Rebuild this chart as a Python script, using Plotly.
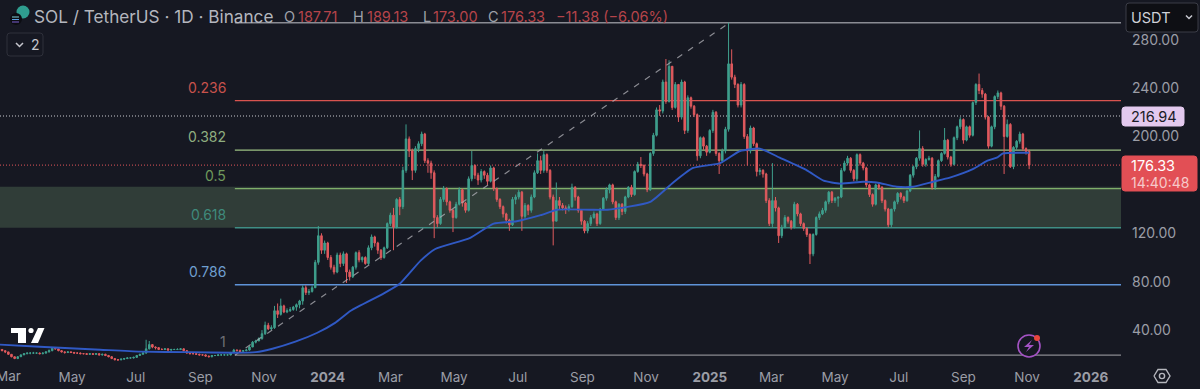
import pandas as pd
import plotly.graph_objects as go

start_date = "2023-02-20"
first_open = 24.5
closes = [
24,23,22,20,18,16.5,18,19.5,20.5,21,
21,21,21,20.5,21,22,23,25,24.5,23,
22,21.5,22,21.5,21,21,20.5,20.5,20,20.5,
20,20.5,19.5,20,19,18,16.5,15.5,15.5,16,
16.5,17,17,17.5,19,20,21,24.5,28,26,
25.5,24,24,24.5,23.5,24,24,24,24.5,23,
21,20.5,20.5,20,19.5,19.5,18.5,18,19,19,
19.5,19.5,19.5,19.5,21.5,23.5,23,22.5,23,23.5,
26,30,31,33,37,44,41,42,56,53,
60,55,56,57,59,61,64,75,71,72,
75,96,118,106,112,100,92,88,102,95,
103,88,84,92,104,98,100,95,108,117,
112,106,100,108,128,135,125,148,142,172,
198,188,172,190,194,202,180,178,170,133,
128,148,157,146,139,133,144,156,145,139,
165,176,168,164,171,168,163,174,157,148,
142,136,131,127,148,150,154,134,143,139,
150,170,180,172,185,172,150,130,147,143,
141,140,142,158,150,139,130,122,128,133,
136,128,140,149,156,160,146,133,144,138,
150,158,152,171,177,176,169,156,186,201,
222,221,245,229,258,224,243,216,245,205,
232,225,218,184,199,192,187,205,220,186,
180,188,206,260,249,243,226,243,200,188,
207,194,171,172,169,147,128,147,141,118,
125,133,130,125,144,136,128,124,119,103,
119,133,136,139,146,154,147,149,150,172,
178,182,172,165,185,178,174,160,152,144,
160,158,147,140,127,140,146,153,150,147,
155,168,175,182,190,177,181,182,158,167,
180,186,197,183,177,199,208,214,197,208,
201,228,243,238,235,216,192,208,233,236,
225,200,210,175,191,196,202,190,187.71,176.33]
highs = [
25,24,23,22,20,18,18.5,20,21,21.5,
21.5,22,21.5,21.5,21.5,22.5,24,25.5,26,24.5,
23.5,22.5,22.5,22.5,22,21.5,21.5,21,21,21,
21,21,21,20.5,20.5,19.5,18.5,16.5,16,16.5,
17,17.5,17.5,18,19.5,20.5,22,32,31,28.5,
26.5,26,25,25,25,24.5,24.5,25,25,25,
23.5,21.5,21,21,20.5,20,20,19,19.5,19.5,
20,20,20,20,22,24.5,24,24,23.5,24.5,
27,31,32,34,40,47,46,44,60,62,
66,61,58,59,60,62,65,77,77,74,
77,98,126,120,114,113,102,94,104,104,
105,104,90,93,105,106,101,101,110,119,
118,113,107,109,129,137,141,149,150,175,
210,200,190,192,196,204,203,182,180,172,
135,150,159,158,147,140,146,158,157,146,
167,188,177,170,173,172,170,176,175,158,
149,143,137,132,150,152,156,155,145,144,
152,172,186,184,188,186,173,152,162,150,
145,143,144,161,159,151,140,131,130,135,
138,137,141,150,158,161,161,147,145,145,
151,159,160,172,179,183,177,170,187,203,
224,226,247,264,263,258,245,243,247,246,
234,233,226,219,200,200,193,206,222,221,
187,190,208,294,272,251,244,245,244,202,
209,208,195,174,173,170,149,178,150,142,
127,135,134,131,146,145,137,129,125,120,
120,134,138,141,147,155,155,150,150,174,
180,184,183,173,186,186,179,175,161,153,
161,162,159,148,141,137,147,154,154,151,
156,169,176,183,205,192,182,184,183,169,
181,187,207,198,184,200,209,216,215,209,
209,229,244,252,240,236,217,209,234,238,
237,226,214,211,192,197,204,203,191,189.13]
lows = [
23.5,22.5,21,19.5,17.5,16,16,18,19.5,20,
20,20.5,20.5,20,20,20.5,21.5,22.5,24,22.5,
21.5,20.5,21,21,20.5,20.5,20,20,19.5,19.5,
19.5,19.5,19,19,18.5,17.5,16,15,14.5,15,
15.5,16,16.5,16.5,17,19,20,20.5,24,25,
24,23.5,23.5,23.5,23,23,23.5,23.5,23.5,22.5,
20.5,20,20,19.5,19,19,18,17.5,17.5,18.5,
18.5,19,19,19,19,21,22.5,22,22,22.5,
23,26,29,31,32,36,40,40,41,50,
52,54,54,55,56,56,58,61,69,69,
71,79,94,103,103,98,90,86,87,92,
93,79,81,83,90,96,96,94,94,106,
109,103,98,99,107,126,106,124,135,140,
170,183,164,170,187,192,178,170,165,116,
125,127,146,143,137,121,132,143,142,137,
138,163,165,160,162,165,160,162,155,146,
140,133,128,122,126,144,148,122,132,135,
137,149,169,169,170,170,148,110,130,140,
139,136,138,141,147,137,127,120,120,126,
132,126,127,139,147,153,144,131,131,135,
136,149,150,151,170,174,167,154,155,184,
200,217,219,227,228,222,223,212,214,202,
203,223,216,180,182,189,184,186,203,184,
169,178,186,204,247,240,224,224,198,176,
186,192,167,168,166,145,126,125,138,112,
116,124,128,123,124,134,126,122,117,94.6,
101,118,131,135,137,144,145,145,142,149,
171,176,170,163,163,176,172,158,150,142,
143,156,145,138,125,125,138,144,148,145,
146,154,166,173,180,175,175,180,156,156,
166,179,185,181,175,176,197,206,194,196,
199,200,226,235,232,214,190,191,206,231,
222,169,199,174,173,189,194,188,185,173.00]

ma_dates = ["2023-02-21","2023-03-31","2023-05-28","2023-07-05","2023-08-22","2023-10-02","2023-10-24",
"2023-11-09","2023-12-01","2023-12-22","2024-01-08","2024-01-23","2024-02-23","2024-03-10","2024-03-30",
"2024-04-13","2024-05-16","2024-06-08","2024-06-30","2024-07-23","2024-08-08","2024-09-08","2024-09-25",
"2024-11-05","2024-11-27","2024-12-16","2025-01-11","2025-01-30","2025-02-18","2025-03-09","2025-04-04",
"2025-04-20","2025-05-06","2025-05-28","2025-06-10","2025-06-29","2025-07-15","2025-08-03","2025-08-19",
"2025-09-10","2025-09-24","2025-10-03","2025-10-09","2025-10-28","2025-11-03"]
ma_values = [28,26.3,23.8,22.2,21.8,21.3,21.8,24.6,30.4,37.8,46,56,70,78.3,97.4,107,116,128,130,135,139.5,
139.5,139.5,146,162,174,178,188,190,182.5,172,163.5,161,162.6,162,158.5,158.5,162.6,166,173,180,182.5,186,186.6,186.5]

fib_names = ["1","0.786","0.618","0.5","0.382","0.236","0"]
fib_levels = [19.3,77.5,124.6,156.9,188.7,229.6,294.0]
fib_line_colors = ["#8a8a90","#5f93d8","#3f8f85","#7fae6a","#9cc083","#d9534f","#8a8b93"]
fib_text_colors = ["#6e6f76","#6f9fd0","#3f8a7c","#6f9a5c","#8fae80","#c8524c",None]
fib_start = "2023-10-04"
band_low, band_high = 124.6, 158.4
trend_dates = ["2023-10-04","2025-01-20"]
trend_values = [19.3,294.0]
last_price = 176.33
marked_price = 216.94
y_tick_values = [40,80,120,200,240,280]
x_tick_dates = ["2023-05-01","2023-07-01","2023-09-01","2023-11-01","2024-01-01","2024-03-01","2024-05-01",
"2024-07-01","2024-09-01","2024-11-01","2025-01-01","2025-03-01","2025-05-01","2025-07-01","2025-09-01","2025-11-01","2026-01-01"]
x_tick_text = ["May","Jul","Sep","Nov","<b>2024</b>","Mar","May","Jul","Sep","Nov","<b>2025</b>","Mar","May","Jul","Sep","Nov","<b>2026</b>"]
first_x_label, first_x_label_date = "Mar", "2023-03-01"

BG = "#161822"; TXT = "#9b9da6"; FONT = "Inter"; UP = "#3f9f8d"; DOWN = "#e05a5e"
W, H, PR, PB = 1200, 389, 79, 27
PW, PH = W - PR, H - PB
X_RANGE = ["2023-02-21", "2026-01-30"]
px = lambda x: x / PW
py = lambda y: 1 - y / PH

dates = pd.date_range(start_date, periods=len(closes), freq="3D")
opens = [first_open] + closes[:-1]

fig = go.Figure()
fig.add_trace(go.Scatter(x=trend_dates, y=trend_values, mode="lines", hoverinfo="skip",
                         line=dict(color="rgba(178,178,184,.75)", width=1.2, dash="6px,7px")))
fig.add_trace(go.Candlestick(x=dates, open=opens, high=highs, low=lows, close=closes, hoverinfo="skip", whiskerwidth=0,
    increasing=dict(line=dict(color=UP, width=1), fillcolor=UP),
    decreasing=dict(line=dict(color=DOWN, width=1), fillcolor=DOWN)))
fig.add_trace(go.Scatter(x=ma_dates, y=ma_values, mode="lines", hoverinfo="skip",
                         line=dict(color="#3059c4", width=1.9, shape="spline", smoothing=0.5)))

shapes = [dict(type="rect", xref="paper", yref="y", x0=0, x1=1, y0=band_low, y1=band_high,
               fillcolor="#303d38", line_width=0, layer="below")]
for lvl, c in zip(fib_levels, fib_line_colors):
    shapes.append(dict(type="line", xref="x", yref="y", x0=fib_start, x1=X_RANGE[1], y0=lvl, y1=lvl,
                       line=dict(color=c, width=1.4), layer="below"))
shapes.append(dict(type="line", xref="paper", yref="y", x0=0, x1=1, y0=marked_price, y1=marked_price,
                   line=dict(color="#c9c9d0", width=1.2, dash="1px,2px"), layer="below"))
shapes.append(dict(type="line", xref="paper", yref="y", x0=0, x1=1, y0=last_price, y1=last_price,
                   line=dict(color="#b8484f", width=1.2, dash="1px,2px"), layer="below"))

def rect(x0, y0, x1, y1, fill, border=None):
    r = 3
    p = (f"M{px(x0+r)},{py(y0)} L{px(x1-r)},{py(y0)} Q{px(x1)},{py(y0)} {px(x1)},{py(y0+r)} "
         f"L{px(x1)},{py(y1-r)} Q{px(x1)},{py(y1)} {px(x1-r)},{py(y1)} L{px(x0+r)},{py(y1)} "
         f"Q{px(x0)},{py(y1)} {px(x0)},{py(y1-r)} L{px(x0)},{py(y0+r)} Q{px(x0)},{py(y0)} {px(x0+r)},{py(y0)} Z")
    shapes.append(dict(type="path", xref="paper", yref="paper", path=p, fillcolor=fill,
                       line=dict(color=border or fill, width=1)))
def poly(pts, fill=None, color=None, width=1):
    p = "M" + " L".join(f"{px(a)},{py(b)}" for a, b in pts)
    if fill: p += " Z"
    shapes.append(dict(type="path", xref="paper", yref="paper", path=p, fillcolor=fill or "rgba(0,0,0,0)",
                       line=dict(color=color or fill, width=width if color else 0)))
def circ(cx, cy, r, fill=None, color=None, width=1):
    shapes.append(dict(type="circle", xref="paper", yref="paper", x0=px(cx-r), x1=px(cx+r), y0=py(cy+r), y1=py(cy-r),
                       fillcolor=fill or "rgba(0,0,0,0)", line=dict(color=color or fill, width=width if color else 0)))

rect(7, 33, 43, 56, BG, "#2e303a")
poly([(16, 43), (19.5, 46.5), (23, 43)], color="#c5c6cd", width=1.5)
rect(1126, 3, 1198, 32, "#0e0f14", "#3b3d47")
poly([(1186, 15.5), (1189, 18.5), (1192, 15.5)], color="#c8c9d0", width=1.5)
rect(1122, 107, 1184, 126, "#e3c9ee")
rect(1122, 156, 1197, 191, "#e24f55")
# TradingView mark
poly([(11, 328), (26, 328), (26, 343), (18, 343), (18, 333), (11, 333)], fill="#ffffff")
circ(31, 330.5, 2.6, fill="#ffffff")
poly([(38, 328), (44.5, 328), (38, 343), (31, 343)], fill="#ffffff")
# Symbol icon
circ(23, 12, 6.5, fill="#2f9d8f")
circ(16, 19, 6, fill="#0c0d12")
poly([(12, 17), (19, 17)], color="#7fd0d8", width=1)
poly([(12, 19.5), (19, 19.5)], color="#5aa0e0", width=1)
poly([(12, 22), (19, 22)], color="#7a5fd0", width=1)
# Alerts icon
circ(1029, 346, 11, fill=BG, color="#a453c4", width=1.6)
poly([(1032, 340), (1024, 347), (1029, 347), (1026, 352), (1034, 345), (1029, 345)], fill="#a453c4")
circ(1037, 338, 3, fill="#e8453c")
# Settings icon
poly([(1154, 376), (1158, 369.5), (1166, 369.5), (1170, 376), (1166, 382.5), (1158, 382.5), (1154, 376)], color="#b5b6bd", width=1.4)
circ(1162, 376, 2.6, color="#b5b6bd", width=1.4)

ann = []
def text(x, y, s, color, size=14, anchor="left"):
    ann.append(dict(xref="paper", yref="paper", x=px(x), y=py(y), text=s, showarrow=False, xanchor=anchor, yanchor="middle",
                    font=dict(family=FONT, size=size, color=color), borderpad=0, align=anchor))
text(33, 16, "SOL / TetherUS · 1D · Binance", "#b4b6be", 17.2)
RED = "#b5444a"; LBL = "#9fa1aa"
for x, s, c in [(283, "O", LBL), (297, "187.71", RED), (352, "H", LBL), (366, "189.13", RED), (422, "L", LBL), (432, "173.00", RED),
                (487, "C", LBL), (500, "176.33", RED), (555, "−11.38 (−6.06%)", RED)]:
    text(x, 16, s, c, 14.5)
text(30, 45, "2", "#c5c6cd", 14)
text(1130, 17, "USDT", "#d0d1d8", 14.5)
text(1130, 116.5, f"{marked_price:.2f}", "#1b1b26", 14.5)
text(1130, 165, f"{last_price:.2f}", "#ffffff", 14.5)
text(1130, 182, "14:40:48", "#f6c9ca", 14)
for n, lvl, c in zip(fib_names, fib_levels, fib_text_colors):
    if c:
        ann.append(dict(xref="x", yref="y", x=fib_start, y=lvl, text=n, showarrow=False, xanchor="right", yanchor="bottom",
                        xshift=-7, yshift=3, font=dict(family=FONT, size=14, color=c)))
ann.append(dict(xref="x", yref="paper", x=first_x_label_date, y=py(376), text=first_x_label, showarrow=False, xanchor="center",
                yanchor="middle", font=dict(family=FONT, size=13.5, color=TXT)))

fig.update_layout(
    width=W, height=H, margin=dict(l=0, r=PR, t=0, b=PB), paper_bgcolor=BG, plot_bgcolor=BG, showlegend=False,
    shapes=shapes, annotations=ann, font=dict(family=FONT, color=TXT),
    xaxis=dict(type="date", range=X_RANGE, rangeslider=dict(visible=False), showgrid=False, zeroline=False, showline=False,
               tickmode="array", tickvals=x_tick_dates, ticktext=x_tick_text, ticks="", tickfont=dict(family=FONT, size=13.5, color=TXT),
               ticklabelstandoff=5),
    yaxis=dict(side="right", range=[13.64, 312.78], showgrid=False, zeroline=False, showline=False,
               tickmode="array", tickvals=y_tick_values, tickformat=".2f", ticks="", tickfont=dict(family=FONT, size=14, color=TXT),
               ticklabelstandoff=10),
)
fig.write_html("out.html", config={"displayModeBar": False},
               post_script="document.body.style.margin='0';document.body.style.background='#161822';document.body.style.overflow='hidden';")
